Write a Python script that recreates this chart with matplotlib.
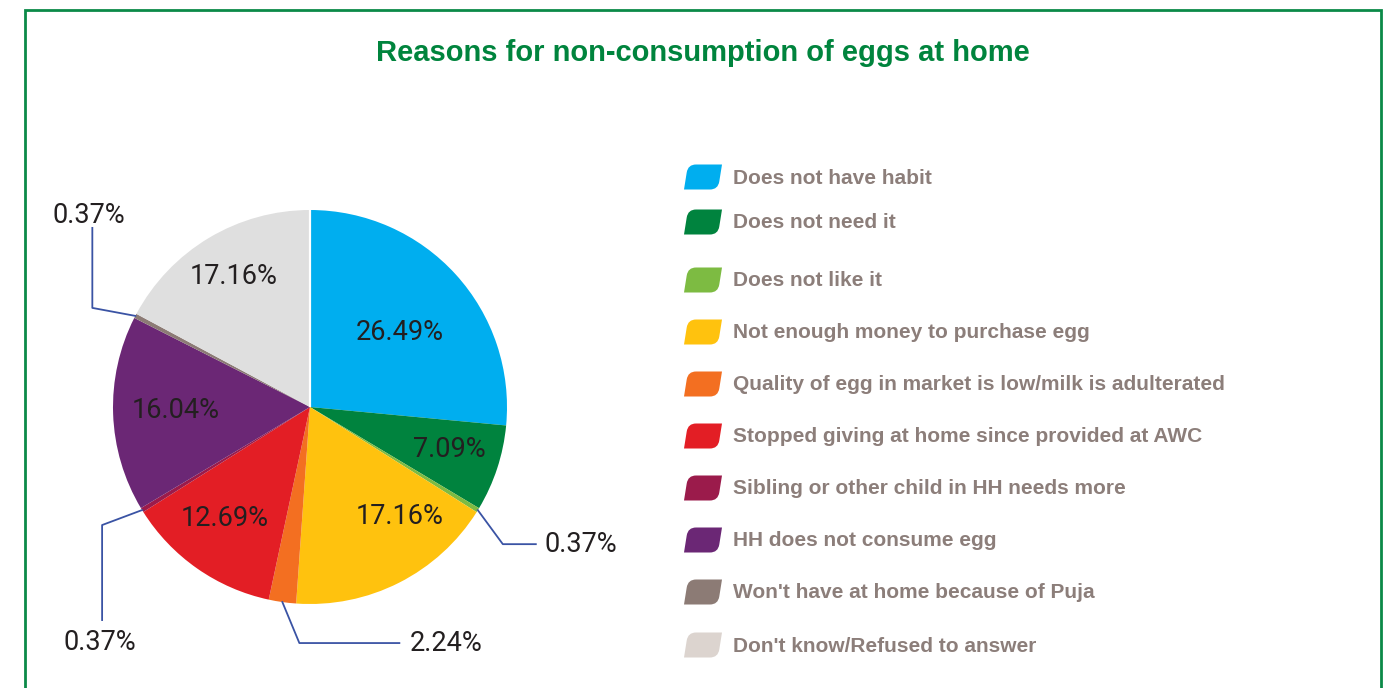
import numpy as np
import matplotlib
matplotlib.use("Agg")
import matplotlib.pyplot as plt
from matplotlib.path import Path
from matplotlib.patches import PathPatch

# ---------------- data ----------------
title = "Reasons for non-consumption of eggs at home"
categories = [
    "Does not have habit",
    "Does not need it",
    "Does not like it",
    "Not enough money to purchase egg",
    "Quality of egg in market is low/milk is adulterated",
    "Stopped giving at home since provided at AWC",
    "Sibling or other child in HH needs more",
    "HH does not consume egg",
    "Won't have at home because of Puja",
    "Don't know/Refused to answer",
]
values = [26.49, 7.09, 0.37, 17.16, 2.24, 12.69, 0.37, 16.04, 0.37, 17.16]
value_labels = ["26.49%", "7.09%", "0.37%", "17.16%", "2.24%",
                "12.69%", "0.37%", "16.04%", "0.37%", "17.16%"]

# ---------------- styles / layout ----------------
pie_colors = ["#00AEEF", "#00833E", "#7DBB42", "#FFC20E", "#F36F21",
              "#E31E25", "#9B1B4B", "#6B2775", "#8C7B75", "#DFDFDF"]
legend_colors = pie_colors[:-1] + ["#DCD4CF"]
W, H = 1397, 688
cx, cy, R = 310, 407, 197          # pie centre / radius in pixels
legend_rows_y = [178, 223, 281, 333, 385, 437, 489, 541, 593, 646]
# inside labels: (radius fraction, angle offset deg)
inside = {0: (0.59, -2.5), 1: (0.74, 1.0), 3: (0.72, 12.4), 5: (0.71, -2.5),
          7: (0.68, -0.4), 9: (0.77, -0.6)}
# outside labels: elbow offset, final segment, label offset, alignment (px)
outside = {
    2: ((25, -34), (33, 0), (9, 0), ("left", "center")),
    4: ((17, -41), (100, 0), (10, 0), ("left", "center")),
    6: ((-40, -15), (0, -95), (-2, -22), ("center", "center")),
    8: ((-43, 8), (0, 80), (-4, 12), ("center", "center")),
}
leader_color = "#3A53A4"
text_color = "#231F20"
legend_text_color = "#8C7E7A"
green = "#00843D"

fig = plt.figure(figsize=(W / 100, H / 100), dpi=100)
fig.patch.set_facecolor("white")

# pie axes: 1 data unit = R pixels
ax = fig.add_axes([0, 0, 1, 1])
wedges, _ = ax.pie(values, colors=pie_colors, startangle=90, counterclock=False,
                   radius=1, center=(0, 0), wedgeprops=dict(linewidth=0))
ax.set_xlim(-cx / R, (W - cx) / R)
ax.set_ylim(-(H - cy) / R, cy / R)
ax.set_aspect("auto")
ax.axis("off")
ax.plot([0, 0], [0, 1.0], color="white", lw=1.6, solid_capstyle="butt")

pct_font = dict(family=["Roboto", "DejaVu Sans"], fontweight="normal",
                fontsize=19.5, color=text_color)

for i, w in enumerate(wedges):
    mid = np.deg2rad((w.theta1 + w.theta2) / 2)
    if i in inside:
        rf, da = inside[i]
        a = mid + np.deg2rad(da)
        ax.text(rf * np.cos(a), rf * np.sin(a), value_labels[i],
                ha="center", va="center", **pct_font)
    else:
        (ex, ey), (sx, sy), (lx, ly), (ha, va) = outside[i]
        x0, y0 = np.cos(mid), np.sin(mid)
        x1, y1 = x0 + ex / R, y0 + ey / R
        x2, y2 = x1 + sx / R, y1 + sy / R
        ax.plot([x0, x1, x2], [y0, y1, y2], color=leader_color, lw=1.3)
        ax.text(x2 + lx / R, y2 + ly / R, value_labels[i], ha=ha, va=va, **pct_font)

# overlay axes in pixel coordinates
ov = fig.add_axes([0, 0, 1, 1], zorder=5)
ov.set_xlim(0, W)
ov.set_ylim(H, 0)
ov.axis("off")
ov.patch.set_alpha(0)

# border
ov.plot([25, 25, 1381, 1381], [H + 5, 10, 10, H + 5], color="#0B8A48", lw=2.0,
        solid_joinstyle="miter")

ov.text(703, 53, title, ha="center", va="center", fontsize=21,
        fontweight="bold", color=green, family=["Liberation Sans", "DejaVu Sans"])


def leaf(x, yc, w=38, h=25, slant=4, r=8):
    top, bot = yc - h / 2, yc + h / 2
    tl, tr = (x + slant, top), (x + w, top)
    br, bl = (x + w - slant, bot), (x, bot)
    verts = [bl,
             (tl[0] - slant * r / h, top + r), tl, (tl[0] + r, top),
             tr,
             (br[0] + slant * r / h, bot - r), br, (br[0] - r, bot),
             bl]
    codes = [Path.MOVETO, Path.LINETO, Path.CURVE3, Path.CURVE3,
             Path.LINETO, Path.LINETO, Path.CURVE3, Path.CURVE3, Path.CLOSEPOLY]
    return Path(verts, codes)


for lab, col, y in zip(categories, legend_colors, legend_rows_y):
    ov.add_patch(PathPatch(leaf(684, y - 1), facecolor=col, edgecolor="none"))
    ov.text(733, y, lab, ha="left", va="center", fontsize=15, fontweight="bold",
            color=legend_text_color, family=["Liberation Sans", "DejaVu Sans"])

fig.savefig("out.png", dpi=100, facecolor="white")
